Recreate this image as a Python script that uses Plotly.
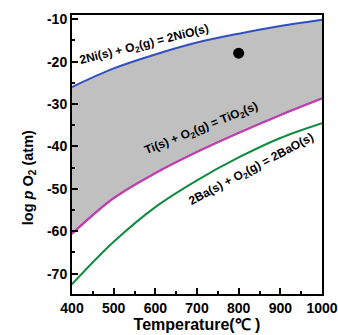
import plotly.graph_objects as go

temps = [400, 500, 600, 700, 800, 900, 1000]
ni_nio = [-26.0, -21.6, -18.3, -15.5, -13.4, -11.6, -10.1]
ti_tio2 = [-60.6, -52.2, -46.3, -41.3, -36.8, -32.6, -28.7]
ba_bao = [-72.5, -62.5, -54.3, -48.0, -42.6, -38.0, -34.5]
point_t = [800]
point_p = [-18]

FONT = "Liberation Sans, Arial, sans-serif"

fig = go.Figure()
fig.add_trace(go.Scatter(x=temps, y=ti_tio2, mode="lines", line_shape="spline",
                         line=dict(color="#c040b0", width=2), showlegend=False))
fig.add_trace(go.Scatter(x=temps, y=ni_nio, mode="lines", fill="tonexty", line_shape="spline",
                         fillcolor="#c0c0c0",
                         line=dict(color="#3050c0", width=2), showlegend=False))
fig.add_trace(go.Scatter(x=temps, y=ti_tio2, mode="lines", line_shape="spline",
                         line=dict(color="#c040b0", width=2), showlegend=False))
fig.add_trace(go.Scatter(x=temps, y=ba_bao, mode="lines", line_shape="spline",
                         line=dict(color="#108a40", width=2), showlegend=False))
fig.add_trace(go.Scatter(x=point_t, y=point_p, mode="markers",
                         marker=dict(color="black", size=11), showlegend=False))

labels = [
    ("2Ni(s) + O<sub>2</sub>(g) = 2NiO(s)", 574, -16.1, -14),
    ("Ti(s) + O<sub>2</sub>(g) = TiO<sub>2</sub>(s)", 710, -35.9, -22),
    ("2Ba(s) + O<sub>2</sub>(g) = 2BaO(s)", 830, -45.6, -28),
]
for txt, x, y, ang in labels:
    fig.add_annotation(x=x, y=y, text="<b>" + txt + "</b>", showarrow=False,
                       xanchor="center", yanchor="middle",
                       textangle=ang, font=dict(family=FONT, size=12, color="black"))

fig.add_annotation(xref="paper", yref="paper", x=-0.172, y=0.415,
                   xanchor="center", yanchor="middle",
                   text="<b>log <i>p</i> O<sub>2</sub> (atm)</b>", showarrow=False,
                   textangle=-90, font=dict(family=FONT, size=14.5, color="black"))

axis_common = dict(showline=True, linecolor="black", linewidth=2, mirror=True,
                   ticks="inside", ticklen=6, tickwidth=1.5, tickcolor="black",
                   showgrid=False, zeroline=False, automargin=False,
                   tickfont=dict(family=FONT, size=14, color="black"))

xt = [400, 500, 600, 700, 800, 900, 1000]
fig.update_xaxes(range=[400, 1000], tickvals=xt,
                 ticktext=["<b>%d</b>" % v for v in xt],
                 minor=dict(ticks="inside", ticklen=3, tickwidth=1.5, tickcolor="black", dtick=50),
                 title=dict(text="<b>Temperature(℃ )</b>", standoff=2,
                            font=dict(family=FONT, size=16, color="black")),
                 **axis_common)
yt = [-70, -60, -50, -40, -30, -20, -10]
fig.update_yaxes(range=[-74.8, -9.0], tickvals=yt,
                 ticktext=["<b>%d</b>" % v for v in yt],
                 minor=dict(ticks="inside", ticklen=3, tickwidth=1.5, tickcolor="black", dtick=5),
                 **axis_common)

fig.update_layout(width=338, height=335, margin=dict(l=72, r=16, t=15, b=41),
                  paper_bgcolor="white", plot_bgcolor="white")
fig.write_html("out.html")
